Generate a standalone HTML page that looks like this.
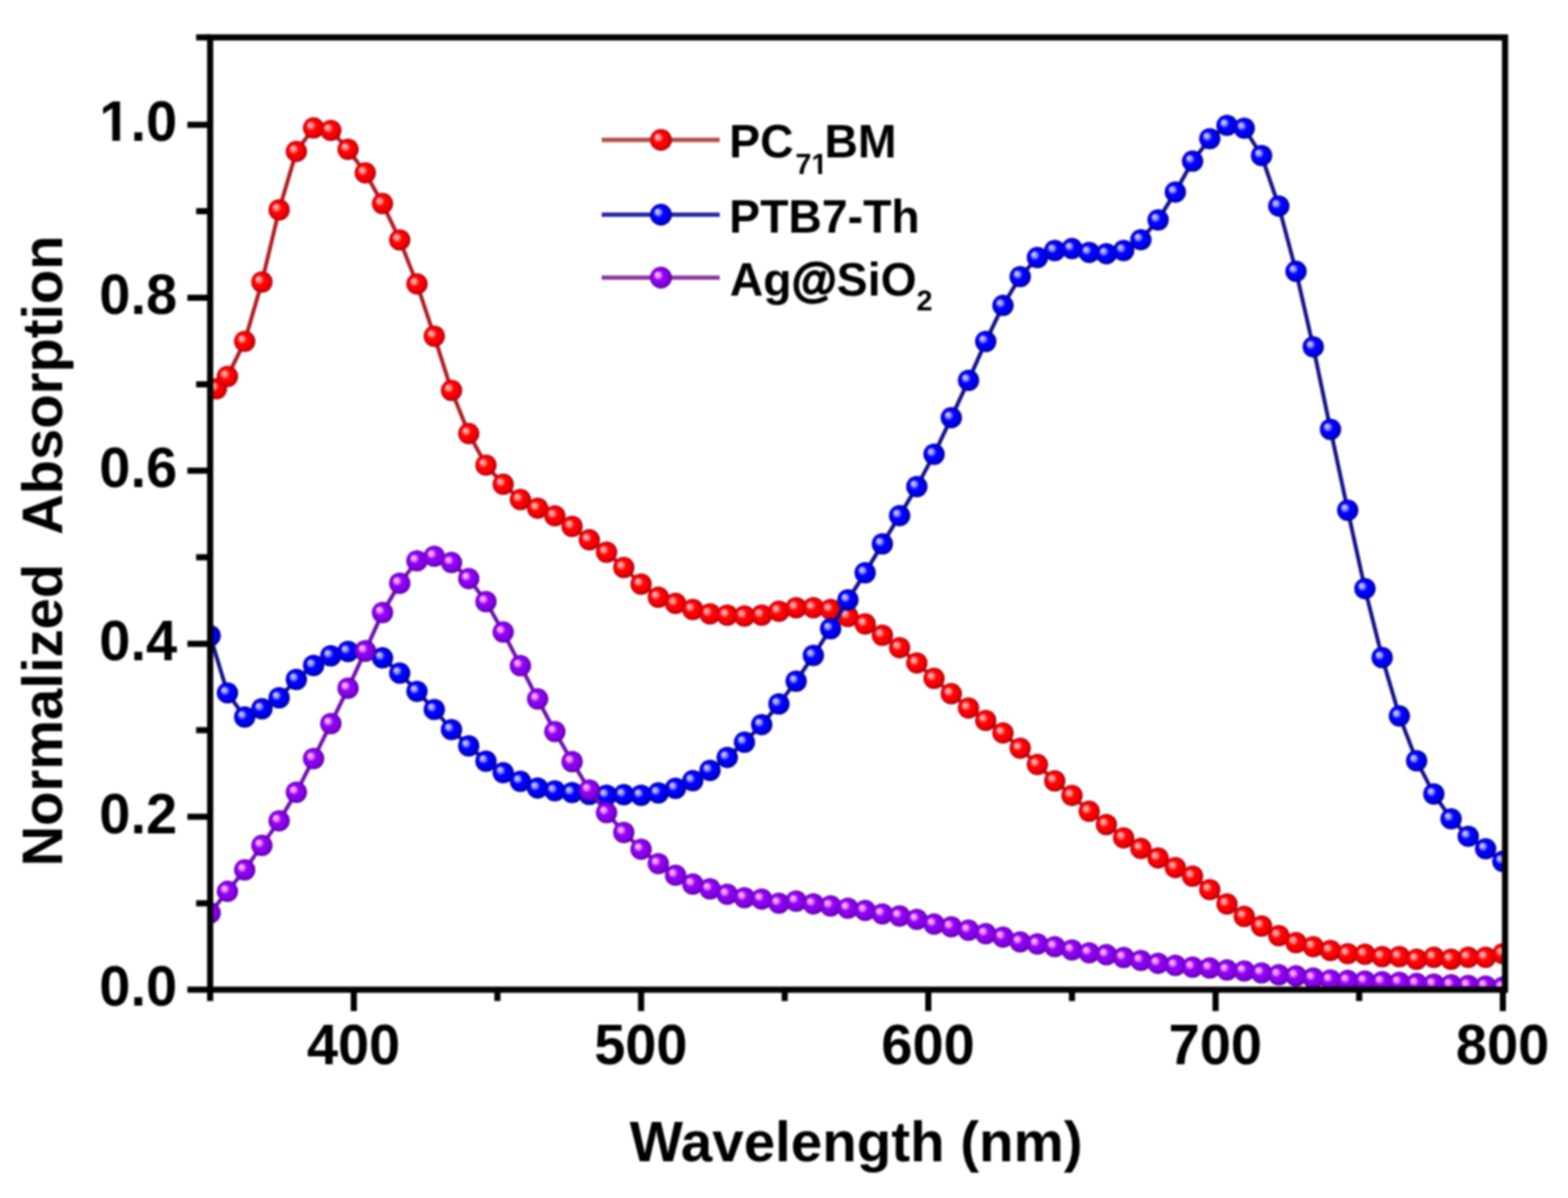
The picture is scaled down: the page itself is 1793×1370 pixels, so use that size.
<!DOCTYPE html>
<html><head><meta charset="utf-8"><title>Normalized Absorption</title>
<style>html,body{margin:0;padding:0;background:#fff;}body{width:1793px;height:1370px;overflow:hidden;}svg{display:block;}#w{filter:blur(0.8px);}</style>
</head><body><div id="w">
<svg width="1793" height="1370" viewBox="0 0 1793 1370">
<defs>
<radialGradient id="gr" cx="0.5" cy="0.5" r="0.5" fx="0.30" fy="0.33"><stop offset="0" stop-color="#ffc4c4"/><stop offset="0.24" stop-color="#ff8c8c"/><stop offset="0.46" stop-color="#ff0000"/><stop offset="0.7" stop-color="#ff0000"/><stop offset="1" stop-color="#a80010"/></radialGradient>
<radialGradient id="gb" cx="0.5" cy="0.5" r="0.5" fx="0.30" fy="0.33"><stop offset="0" stop-color="#d8d8ff"/><stop offset="0.24" stop-color="#9a9aff"/><stop offset="0.46" stop-color="#0000ff"/><stop offset="0.7" stop-color="#0000ff"/><stop offset="1" stop-color="#000090"/></radialGradient>
<radialGradient id="gp" cx="0.5" cy="0.5" r="0.5" fx="0.30" fy="0.33"><stop offset="0" stop-color="#ffc4ff"/><stop offset="0.24" stop-color="#f08cff"/><stop offset="0.46" stop-color="#8c00f0"/><stop offset="0.7" stop-color="#8c00f0"/><stop offset="1" stop-color="#5c00a4"/></radialGradient>
<clipPath id="cp"><rect x="240.3" y="42.8" width="1480.7" height="1089.0"/></clipPath>
</defs>
<rect width="1793" height="1370" fill="#fff"/>
<g clip-path="url(#cp)">
<polyline fill="none" stroke="#b01c24" stroke-width="4.5" stroke-linejoin="round" points="247.5,444.5 260.1,430.5 279.8,390.4 299.5,322.5 319.2,240.0 338.9,173.2 358.6,146.3 378.3,149.1 398.0,170.8 417.7,197.7 437.4,232.8 457.1,274.4 476.8,324.7 496.6,384.5 516.3,446.5 536.0,495.8 555.7,531.9 575.4,553.8 595.1,571.3 614.8,581.2 634.5,589.9 654.2,602.0 673.9,617.3 693.6,631.5 713.3,649.0 733.1,668.0 752.8,683.0 772.5,690.0 792.2,697.0 811.9,702.0 831.6,703.5 851.3,704.5 871.0,703.5 890.7,699.0 910.4,695.0 930.1,695.0 949.8,697.0 969.6,705.0 989.3,713.5 1009.0,726.5 1028.7,740.7 1048.4,758.2 1068.1,775.8 1087.8,793.3 1107.5,809.7 1127.2,823.9 1146.9,838.2 1166.6,855.7 1186.3,874.3 1206.1,893.0 1225.8,909.7 1245.5,927.8 1265.2,943.0 1284.9,958.2 1304.6,970.3 1324.3,981.2 1344.0,992.2 1363.7,1002.0 1383.4,1017.4 1403.1,1033.8 1422.8,1048.0 1442.6,1059.0 1462.3,1070.0 1482.0,1078.0 1501.7,1082.6 1521.4,1087.0 1541.1,1090.6 1560.8,1091.3 1580.5,1094.0 1600.2,1094.0 1619.9,1097.0 1639.6,1094.8 1659.3,1097.0 1679.0,1094.8 1698.8,1094.8 1718.5,1090.6"/>
<circle cx="247.5" cy="444.5" r="12.2" fill="url(#gr)"/><circle cx="260.1" cy="430.5" r="12.2" fill="url(#gr)"/><circle cx="279.8" cy="390.4" r="12.2" fill="url(#gr)"/><circle cx="299.5" cy="322.5" r="12.2" fill="url(#gr)"/><circle cx="319.2" cy="240.0" r="12.2" fill="url(#gr)"/><circle cx="338.9" cy="173.2" r="12.2" fill="url(#gr)"/><circle cx="358.6" cy="146.3" r="12.2" fill="url(#gr)"/><circle cx="378.3" cy="149.1" r="12.2" fill="url(#gr)"/><circle cx="398.0" cy="170.8" r="12.2" fill="url(#gr)"/><circle cx="417.7" cy="197.7" r="12.2" fill="url(#gr)"/><circle cx="437.4" cy="232.8" r="12.2" fill="url(#gr)"/><circle cx="457.1" cy="274.4" r="12.2" fill="url(#gr)"/><circle cx="476.8" cy="324.7" r="12.2" fill="url(#gr)"/><circle cx="496.6" cy="384.5" r="12.2" fill="url(#gr)"/><circle cx="516.3" cy="446.5" r="12.2" fill="url(#gr)"/><circle cx="536.0" cy="495.8" r="12.2" fill="url(#gr)"/><circle cx="555.7" cy="531.9" r="12.2" fill="url(#gr)"/><circle cx="575.4" cy="553.8" r="12.2" fill="url(#gr)"/><circle cx="595.1" cy="571.3" r="12.2" fill="url(#gr)"/><circle cx="614.8" cy="581.2" r="12.2" fill="url(#gr)"/><circle cx="634.5" cy="589.9" r="12.2" fill="url(#gr)"/><circle cx="654.2" cy="602.0" r="12.2" fill="url(#gr)"/><circle cx="673.9" cy="617.3" r="12.2" fill="url(#gr)"/><circle cx="693.6" cy="631.5" r="12.2" fill="url(#gr)"/><circle cx="713.3" cy="649.0" r="12.2" fill="url(#gr)"/><circle cx="733.1" cy="668.0" r="12.2" fill="url(#gr)"/><circle cx="752.8" cy="683.0" r="12.2" fill="url(#gr)"/><circle cx="772.5" cy="690.0" r="12.2" fill="url(#gr)"/><circle cx="792.2" cy="697.0" r="12.2" fill="url(#gr)"/><circle cx="811.9" cy="702.0" r="12.2" fill="url(#gr)"/><circle cx="831.6" cy="703.5" r="12.2" fill="url(#gr)"/><circle cx="851.3" cy="704.5" r="12.2" fill="url(#gr)"/><circle cx="871.0" cy="703.5" r="12.2" fill="url(#gr)"/><circle cx="890.7" cy="699.0" r="12.2" fill="url(#gr)"/><circle cx="910.4" cy="695.0" r="12.2" fill="url(#gr)"/><circle cx="930.1" cy="695.0" r="12.2" fill="url(#gr)"/><circle cx="949.8" cy="697.0" r="12.2" fill="url(#gr)"/><circle cx="969.6" cy="705.0" r="12.2" fill="url(#gr)"/><circle cx="989.3" cy="713.5" r="12.2" fill="url(#gr)"/><circle cx="1009.0" cy="726.5" r="12.2" fill="url(#gr)"/><circle cx="1028.7" cy="740.7" r="12.2" fill="url(#gr)"/><circle cx="1048.4" cy="758.2" r="12.2" fill="url(#gr)"/><circle cx="1068.1" cy="775.8" r="12.2" fill="url(#gr)"/><circle cx="1087.8" cy="793.3" r="12.2" fill="url(#gr)"/><circle cx="1107.5" cy="809.7" r="12.2" fill="url(#gr)"/><circle cx="1127.2" cy="823.9" r="12.2" fill="url(#gr)"/><circle cx="1146.9" cy="838.2" r="12.2" fill="url(#gr)"/><circle cx="1166.6" cy="855.7" r="12.2" fill="url(#gr)"/><circle cx="1186.3" cy="874.3" r="12.2" fill="url(#gr)"/><circle cx="1206.1" cy="893.0" r="12.2" fill="url(#gr)"/><circle cx="1225.8" cy="909.7" r="12.2" fill="url(#gr)"/><circle cx="1245.5" cy="927.8" r="12.2" fill="url(#gr)"/><circle cx="1265.2" cy="943.0" r="12.2" fill="url(#gr)"/><circle cx="1284.9" cy="958.2" r="12.2" fill="url(#gr)"/><circle cx="1304.6" cy="970.3" r="12.2" fill="url(#gr)"/><circle cx="1324.3" cy="981.2" r="12.2" fill="url(#gr)"/><circle cx="1344.0" cy="992.2" r="12.2" fill="url(#gr)"/><circle cx="1363.7" cy="1002.0" r="12.2" fill="url(#gr)"/><circle cx="1383.4" cy="1017.4" r="12.2" fill="url(#gr)"/><circle cx="1403.1" cy="1033.8" r="12.2" fill="url(#gr)"/><circle cx="1422.8" cy="1048.0" r="12.2" fill="url(#gr)"/><circle cx="1442.6" cy="1059.0" r="12.2" fill="url(#gr)"/><circle cx="1462.3" cy="1070.0" r="12.2" fill="url(#gr)"/><circle cx="1482.0" cy="1078.0" r="12.2" fill="url(#gr)"/><circle cx="1501.7" cy="1082.6" r="12.2" fill="url(#gr)"/><circle cx="1521.4" cy="1087.0" r="12.2" fill="url(#gr)"/><circle cx="1541.1" cy="1090.6" r="12.2" fill="url(#gr)"/><circle cx="1560.8" cy="1091.3" r="12.2" fill="url(#gr)"/><circle cx="1580.5" cy="1094.0" r="12.2" fill="url(#gr)"/><circle cx="1600.2" cy="1094.0" r="12.2" fill="url(#gr)"/><circle cx="1619.9" cy="1097.0" r="12.2" fill="url(#gr)"/><circle cx="1639.6" cy="1094.8" r="12.2" fill="url(#gr)"/><circle cx="1659.3" cy="1097.0" r="12.2" fill="url(#gr)"/><circle cx="1679.0" cy="1094.8" r="12.2" fill="url(#gr)"/><circle cx="1698.8" cy="1094.8" r="12.2" fill="url(#gr)"/><circle cx="1718.5" cy="1090.6" r="12.2" fill="url(#gr)"/>

<polyline fill="none" stroke="#14108a" stroke-width="4.5" stroke-linejoin="round" points="240.3,727.0 260.1,792.4 279.8,820.0 299.5,810.5 319.2,798.0 338.9,777.0 358.6,761.0 378.3,750.0 398.0,745.0 417.7,744.5 437.4,752.3 457.1,769.8 476.8,790.6 496.6,811.4 516.3,834.4 536.0,853.0 555.7,870.5 575.4,883.6 595.1,893.5 614.8,901.2 634.5,904.4 654.2,906.4 673.9,908.5 693.6,909.5 713.3,908.8 733.1,909.5 752.8,906.8 772.5,901.5 792.2,892.8 811.9,881.0 831.6,866.2 851.3,848.8 871.0,828.7 890.7,805.0 910.4,779.0 930.1,749.5 949.8,719.0 969.6,686.0 989.3,655.0 1009.0,622.0 1028.7,589.7 1048.4,556.5 1068.1,519.5 1087.8,477.7 1107.5,435.0 1127.2,390.5 1146.9,349.3 1166.6,316.4 1186.3,294.5 1206.1,286.5 1225.8,284.3 1245.5,288.7 1265.2,290.2 1284.9,286.5 1304.6,274.1 1324.3,251.5 1344.0,219.7 1363.7,184.3 1383.4,158.6 1403.1,143.4 1422.8,146.6 1442.6,177.9 1462.3,235.7 1482.0,310.3 1501.7,396.7 1521.4,491.0 1541.1,583.5 1560.8,673.2 1580.5,752.0 1600.2,818.8 1619.9,870.0 1639.6,908.0 1659.3,936.4 1679.0,956.4 1698.8,970.6 1718.5,985.0"/>
<circle cx="240.3" cy="727.0" r="12.2" fill="url(#gb)"/><circle cx="260.1" cy="792.4" r="12.2" fill="url(#gb)"/><circle cx="279.8" cy="820.0" r="12.2" fill="url(#gb)"/><circle cx="299.5" cy="810.5" r="12.2" fill="url(#gb)"/><circle cx="319.2" cy="798.0" r="12.2" fill="url(#gb)"/><circle cx="338.9" cy="777.0" r="12.2" fill="url(#gb)"/><circle cx="358.6" cy="761.0" r="12.2" fill="url(#gb)"/><circle cx="378.3" cy="750.0" r="12.2" fill="url(#gb)"/><circle cx="398.0" cy="745.0" r="12.2" fill="url(#gb)"/><circle cx="417.7" cy="744.5" r="12.2" fill="url(#gb)"/><circle cx="437.4" cy="752.3" r="12.2" fill="url(#gb)"/><circle cx="457.1" cy="769.8" r="12.2" fill="url(#gb)"/><circle cx="476.8" cy="790.6" r="12.2" fill="url(#gb)"/><circle cx="496.6" cy="811.4" r="12.2" fill="url(#gb)"/><circle cx="516.3" cy="834.4" r="12.2" fill="url(#gb)"/><circle cx="536.0" cy="853.0" r="12.2" fill="url(#gb)"/><circle cx="555.7" cy="870.5" r="12.2" fill="url(#gb)"/><circle cx="575.4" cy="883.6" r="12.2" fill="url(#gb)"/><circle cx="595.1" cy="893.5" r="12.2" fill="url(#gb)"/><circle cx="614.8" cy="901.2" r="12.2" fill="url(#gb)"/><circle cx="634.5" cy="904.4" r="12.2" fill="url(#gb)"/><circle cx="654.2" cy="906.4" r="12.2" fill="url(#gb)"/><circle cx="673.9" cy="908.5" r="12.2" fill="url(#gb)"/><circle cx="693.6" cy="909.5" r="12.2" fill="url(#gb)"/><circle cx="713.3" cy="908.8" r="12.2" fill="url(#gb)"/><circle cx="733.1" cy="909.5" r="12.2" fill="url(#gb)"/><circle cx="752.8" cy="906.8" r="12.2" fill="url(#gb)"/><circle cx="772.5" cy="901.5" r="12.2" fill="url(#gb)"/><circle cx="792.2" cy="892.8" r="12.2" fill="url(#gb)"/><circle cx="811.9" cy="881.0" r="12.2" fill="url(#gb)"/><circle cx="831.6" cy="866.2" r="12.2" fill="url(#gb)"/><circle cx="851.3" cy="848.8" r="12.2" fill="url(#gb)"/><circle cx="871.0" cy="828.7" r="12.2" fill="url(#gb)"/><circle cx="890.7" cy="805.0" r="12.2" fill="url(#gb)"/><circle cx="910.4" cy="779.0" r="12.2" fill="url(#gb)"/><circle cx="930.1" cy="749.5" r="12.2" fill="url(#gb)"/><circle cx="949.8" cy="719.0" r="12.2" fill="url(#gb)"/><circle cx="969.6" cy="686.0" r="12.2" fill="url(#gb)"/><circle cx="989.3" cy="655.0" r="12.2" fill="url(#gb)"/><circle cx="1009.0" cy="622.0" r="12.2" fill="url(#gb)"/><circle cx="1028.7" cy="589.7" r="12.2" fill="url(#gb)"/><circle cx="1048.4" cy="556.5" r="12.2" fill="url(#gb)"/><circle cx="1068.1" cy="519.5" r="12.2" fill="url(#gb)"/><circle cx="1087.8" cy="477.7" r="12.2" fill="url(#gb)"/><circle cx="1107.5" cy="435.0" r="12.2" fill="url(#gb)"/><circle cx="1127.2" cy="390.5" r="12.2" fill="url(#gb)"/><circle cx="1146.9" cy="349.3" r="12.2" fill="url(#gb)"/><circle cx="1166.6" cy="316.4" r="12.2" fill="url(#gb)"/><circle cx="1186.3" cy="294.5" r="12.2" fill="url(#gb)"/><circle cx="1206.1" cy="286.5" r="12.2" fill="url(#gb)"/><circle cx="1225.8" cy="284.3" r="12.2" fill="url(#gb)"/><circle cx="1245.5" cy="288.7" r="12.2" fill="url(#gb)"/><circle cx="1265.2" cy="290.2" r="12.2" fill="url(#gb)"/><circle cx="1284.9" cy="286.5" r="12.2" fill="url(#gb)"/><circle cx="1304.6" cy="274.1" r="12.2" fill="url(#gb)"/><circle cx="1324.3" cy="251.5" r="12.2" fill="url(#gb)"/><circle cx="1344.0" cy="219.7" r="12.2" fill="url(#gb)"/><circle cx="1363.7" cy="184.3" r="12.2" fill="url(#gb)"/><circle cx="1383.4" cy="158.6" r="12.2" fill="url(#gb)"/><circle cx="1403.1" cy="143.4" r="12.2" fill="url(#gb)"/><circle cx="1422.8" cy="146.6" r="12.2" fill="url(#gb)"/><circle cx="1442.6" cy="177.9" r="12.2" fill="url(#gb)"/><circle cx="1462.3" cy="235.7" r="12.2" fill="url(#gb)"/><circle cx="1482.0" cy="310.3" r="12.2" fill="url(#gb)"/><circle cx="1501.7" cy="396.7" r="12.2" fill="url(#gb)"/><circle cx="1521.4" cy="491.0" r="12.2" fill="url(#gb)"/><circle cx="1541.1" cy="583.5" r="12.2" fill="url(#gb)"/><circle cx="1560.8" cy="673.2" r="12.2" fill="url(#gb)"/><circle cx="1580.5" cy="752.0" r="12.2" fill="url(#gb)"/><circle cx="1600.2" cy="818.8" r="12.2" fill="url(#gb)"/><circle cx="1619.9" cy="870.0" r="12.2" fill="url(#gb)"/><circle cx="1639.6" cy="908.0" r="12.2" fill="url(#gb)"/><circle cx="1659.3" cy="936.4" r="12.2" fill="url(#gb)"/><circle cx="1679.0" cy="956.4" r="12.2" fill="url(#gb)"/><circle cx="1698.8" cy="970.6" r="12.2" fill="url(#gb)"/><circle cx="1718.5" cy="985.0" r="12.2" fill="url(#gb)"/>

<polyline fill="none" stroke="#6e10b0" stroke-width="4.5" stroke-linejoin="round" points="240.3,1044.0 260.1,1019.3 279.8,994.8 299.5,966.8 319.2,938.7 338.9,906.0 358.6,867.5 378.3,827.5 398.0,787.0 417.7,744.5 437.4,700.5 457.1,667.0 476.8,641.4 496.6,636.1 516.3,643.3 536.0,661.7 555.7,688.0 575.4,722.8 595.1,761.3 614.8,799.3 634.5,836.6 654.2,871.0 673.9,903.4 693.6,929.3 713.3,952.0 733.1,971.2 752.8,987.6 772.5,1000.9 792.2,1011.0 811.9,1016.5 831.6,1022.7 851.3,1026.6 871.0,1028.2 890.7,1032.9 910.4,1030.5 930.1,1033.7 949.8,1036.0 969.6,1038.6 989.3,1041.2 1009.0,1045.1 1028.7,1047.5 1048.4,1051.4 1068.1,1056.8 1087.8,1059.9 1107.5,1063.8 1127.2,1067.8 1146.9,1071.7 1166.6,1077.1 1186.3,1079.5 1206.1,1082.6 1225.8,1086.4 1245.5,1089.6 1265.2,1091.8 1284.9,1095.0 1304.6,1098.4 1324.3,1101.7 1344.0,1104.0 1363.7,1106.0 1383.4,1107.0 1403.1,1109.3 1422.8,1110.4 1442.6,1112.6 1462.3,1114.8 1482.0,1116.0 1501.7,1118.5 1521.4,1120.6 1541.1,1121.3 1560.8,1122.0 1580.5,1122.7 1600.2,1123.4 1619.9,1124.8 1639.6,1125.5 1659.3,1126.2 1679.0,1126.9 1698.8,1127.6 1718.5,1129.0"/>
<circle cx="240.3" cy="1044.0" r="12.2" fill="url(#gp)"/><circle cx="260.1" cy="1019.3" r="12.2" fill="url(#gp)"/><circle cx="279.8" cy="994.8" r="12.2" fill="url(#gp)"/><circle cx="299.5" cy="966.8" r="12.2" fill="url(#gp)"/><circle cx="319.2" cy="938.7" r="12.2" fill="url(#gp)"/><circle cx="338.9" cy="906.0" r="12.2" fill="url(#gp)"/><circle cx="358.6" cy="867.5" r="12.2" fill="url(#gp)"/><circle cx="378.3" cy="827.5" r="12.2" fill="url(#gp)"/><circle cx="398.0" cy="787.0" r="12.2" fill="url(#gp)"/><circle cx="417.7" cy="744.5" r="12.2" fill="url(#gp)"/><circle cx="437.4" cy="700.5" r="12.2" fill="url(#gp)"/><circle cx="457.1" cy="667.0" r="12.2" fill="url(#gp)"/><circle cx="476.8" cy="641.4" r="12.2" fill="url(#gp)"/><circle cx="496.6" cy="636.1" r="12.2" fill="url(#gp)"/><circle cx="516.3" cy="643.3" r="12.2" fill="url(#gp)"/><circle cx="536.0" cy="661.7" r="12.2" fill="url(#gp)"/><circle cx="555.7" cy="688.0" r="12.2" fill="url(#gp)"/><circle cx="575.4" cy="722.8" r="12.2" fill="url(#gp)"/><circle cx="595.1" cy="761.3" r="12.2" fill="url(#gp)"/><circle cx="614.8" cy="799.3" r="12.2" fill="url(#gp)"/><circle cx="634.5" cy="836.6" r="12.2" fill="url(#gp)"/><circle cx="654.2" cy="871.0" r="12.2" fill="url(#gp)"/><circle cx="673.9" cy="903.4" r="12.2" fill="url(#gp)"/><circle cx="693.6" cy="929.3" r="12.2" fill="url(#gp)"/><circle cx="713.3" cy="952.0" r="12.2" fill="url(#gp)"/><circle cx="733.1" cy="971.2" r="12.2" fill="url(#gp)"/><circle cx="752.8" cy="987.6" r="12.2" fill="url(#gp)"/><circle cx="772.5" cy="1000.9" r="12.2" fill="url(#gp)"/><circle cx="792.2" cy="1011.0" r="12.2" fill="url(#gp)"/><circle cx="811.9" cy="1016.5" r="12.2" fill="url(#gp)"/><circle cx="831.6" cy="1022.7" r="12.2" fill="url(#gp)"/><circle cx="851.3" cy="1026.6" r="12.2" fill="url(#gp)"/><circle cx="871.0" cy="1028.2" r="12.2" fill="url(#gp)"/><circle cx="890.7" cy="1032.9" r="12.2" fill="url(#gp)"/><circle cx="910.4" cy="1030.5" r="12.2" fill="url(#gp)"/><circle cx="930.1" cy="1033.7" r="12.2" fill="url(#gp)"/><circle cx="949.8" cy="1036.0" r="12.2" fill="url(#gp)"/><circle cx="969.6" cy="1038.6" r="12.2" fill="url(#gp)"/><circle cx="989.3" cy="1041.2" r="12.2" fill="url(#gp)"/><circle cx="1009.0" cy="1045.1" r="12.2" fill="url(#gp)"/><circle cx="1028.7" cy="1047.5" r="12.2" fill="url(#gp)"/><circle cx="1048.4" cy="1051.4" r="12.2" fill="url(#gp)"/><circle cx="1068.1" cy="1056.8" r="12.2" fill="url(#gp)"/><circle cx="1087.8" cy="1059.9" r="12.2" fill="url(#gp)"/><circle cx="1107.5" cy="1063.8" r="12.2" fill="url(#gp)"/><circle cx="1127.2" cy="1067.8" r="12.2" fill="url(#gp)"/><circle cx="1146.9" cy="1071.7" r="12.2" fill="url(#gp)"/><circle cx="1166.6" cy="1077.1" r="12.2" fill="url(#gp)"/><circle cx="1186.3" cy="1079.5" r="12.2" fill="url(#gp)"/><circle cx="1206.1" cy="1082.6" r="12.2" fill="url(#gp)"/><circle cx="1225.8" cy="1086.4" r="12.2" fill="url(#gp)"/><circle cx="1245.5" cy="1089.6" r="12.2" fill="url(#gp)"/><circle cx="1265.2" cy="1091.8" r="12.2" fill="url(#gp)"/><circle cx="1284.9" cy="1095.0" r="12.2" fill="url(#gp)"/><circle cx="1304.6" cy="1098.4" r="12.2" fill="url(#gp)"/><circle cx="1324.3" cy="1101.7" r="12.2" fill="url(#gp)"/><circle cx="1344.0" cy="1104.0" r="12.2" fill="url(#gp)"/><circle cx="1363.7" cy="1106.0" r="12.2" fill="url(#gp)"/><circle cx="1383.4" cy="1107.0" r="12.2" fill="url(#gp)"/><circle cx="1403.1" cy="1109.3" r="12.2" fill="url(#gp)"/><circle cx="1422.8" cy="1110.4" r="12.2" fill="url(#gp)"/><circle cx="1442.6" cy="1112.6" r="12.2" fill="url(#gp)"/><circle cx="1462.3" cy="1114.8" r="12.2" fill="url(#gp)"/><circle cx="1482.0" cy="1116.0" r="12.2" fill="url(#gp)"/><circle cx="1501.7" cy="1118.5" r="12.2" fill="url(#gp)"/><circle cx="1521.4" cy="1120.6" r="12.2" fill="url(#gp)"/><circle cx="1541.1" cy="1121.3" r="12.2" fill="url(#gp)"/><circle cx="1560.8" cy="1122.0" r="12.2" fill="url(#gp)"/><circle cx="1580.5" cy="1122.7" r="12.2" fill="url(#gp)"/><circle cx="1600.2" cy="1123.4" r="12.2" fill="url(#gp)"/><circle cx="1619.9" cy="1124.8" r="12.2" fill="url(#gp)"/><circle cx="1639.6" cy="1125.5" r="12.2" fill="url(#gp)"/><circle cx="1659.3" cy="1126.2" r="12.2" fill="url(#gp)"/><circle cx="1679.0" cy="1126.9" r="12.2" fill="url(#gp)"/><circle cx="1698.8" cy="1127.6" r="12.2" fill="url(#gp)"/><circle cx="1718.5" cy="1129.0" r="12.2" fill="url(#gp)"/>

</g>
<rect x="240.3" y="42.8" width="1480.7" height="1089.0" fill="none" stroke="#000" stroke-width="7.0"/>
<path d="M214.3 1131.8H240.3M224.3 1032.9H240.3M214.3 934.0H240.3M224.3 835.1H240.3M214.3 736.2H240.3M224.3 637.2H240.3M214.3 538.3H240.3M224.3 439.4H240.3M214.3 340.5H240.3M224.3 241.6H240.3M214.3 142.7H240.3M224.3 42.8H240.3M240.3 1131.8V1144.8M404.6 1131.8V1156.3M568.8 1131.8V1144.8M733.1 1131.8V1156.3M897.3 1131.8V1144.8M1061.5 1131.8V1156.3M1225.8 1131.8V1144.8M1390.0 1131.8V1156.3M1554.2 1131.8V1144.8M1718.5 1131.8V1156.3" stroke="#000" stroke-width="7.0" fill="none"/>
<text x="202.5" y="1150.3" text-anchor="end" style="font-family:'Liberation Sans',Arial,sans-serif;font-weight:bold;font-size:64px">0.0</text>
<text x="202.5" y="952.5" text-anchor="end" style="font-family:'Liberation Sans',Arial,sans-serif;font-weight:bold;font-size:64px">0.2</text>
<text x="202.5" y="754.7" text-anchor="end" style="font-family:'Liberation Sans',Arial,sans-serif;font-weight:bold;font-size:64px">0.4</text>
<text x="202.5" y="556.8" text-anchor="end" style="font-family:'Liberation Sans',Arial,sans-serif;font-weight:bold;font-size:64px">0.6</text>
<text x="202.5" y="359.0" text-anchor="end" style="font-family:'Liberation Sans',Arial,sans-serif;font-weight:bold;font-size:64px">0.8</text>
<clipPath id="c1"><rect x="103.53" y="71.20" width="200" height="82.27"/><rect x="128.47" y="152.67" width="8.78" height="12"/><rect x="149.12" y="152.67" width="200" height="12"/></clipPath>
<text x="202.5" y="161.2" text-anchor="end" clip-path="url(#c1)" style="font-family:'Liberation Sans',Arial,sans-serif;font-weight:bold;font-size:64px">1.0</text>
<text x="404.3" y="1217" text-anchor="middle" style="font-family:'Liberation Sans',Arial,sans-serif;font-weight:bold;font-size:64px">400</text>
<text x="732.8" y="1217" text-anchor="middle" style="font-family:'Liberation Sans',Arial,sans-serif;font-weight:bold;font-size:64px">500</text>
<text x="1061.2" y="1217" text-anchor="middle" style="font-family:'Liberation Sans',Arial,sans-serif;font-weight:bold;font-size:64px">600</text>
<text x="1389.7" y="1217" text-anchor="middle" style="font-family:'Liberation Sans',Arial,sans-serif;font-weight:bold;font-size:64px">700</text>
<text x="1718.2" y="1217" text-anchor="middle" style="font-family:'Liberation Sans',Arial,sans-serif;font-weight:bold;font-size:64px">800</text>
<text x="979" y="1327.5" text-anchor="middle" style="font-family:'Liberation Sans',Arial,sans-serif;font-weight:bold;font-size:64.6px">Wavelength (nm)</text>
<text transform="translate(70.5 630) rotate(-90)" text-anchor="middle" style="font-family:'Liberation Sans',Arial,sans-serif;font-weight:bold;font-size:64.2px" xml:space="preserve">Normalized  Absorption</text>
<line x1="688" y1="160.0" x2="823" y2="160.0" stroke="#b44a4a" stroke-width="4.8"/><circle cx="755.8" cy="160.0" r="12.5" fill="url(#gr)"/>
<line x1="688" y1="245.5" x2="823" y2="245.5" stroke="#2828a8" stroke-width="4.8"/><circle cx="755.8" cy="245.5" r="12.5" fill="url(#gb)"/>
<line x1="688" y1="317.5" x2="823" y2="317.5" stroke="#8a3aa0" stroke-width="4.8"/><circle cx="755.8" cy="317.5" r="12.5" fill="url(#gp)"/>
<clipPath id="c2"><rect x="780" y="100" width="400" height="94.13"/><rect x="780" y="193.13" width="146.85" height="40"/><rect x="935.56" y="193.13" width="4.53" height="40"/><rect x="947.19" y="193.13" width="300" height="40"/></clipPath>
<text x="833.8" y="180.3" clip-path="url(#c2)" style="font-family:'Liberation Sans',Arial,sans-serif;font-weight:bold;font-size:53px">PC<tspan x="909.5" y="198.5" style="font-size:33px">71</tspan><tspan x="942.7" y="180.3">BM</tspan></text>
<text x="833.8" y="266.3" style="font-family:'Liberation Sans',Arial,sans-serif;font-weight:bold;font-size:53px">PTB7-Th</text>
<text x="834.5" y="337.8" style="font-family:'Liberation Sans',Arial,sans-serif;font-weight:bold;font-size:53px">Ag<tspan style="stroke:#000;stroke-width:1.8px">@</tspan>SiO<tspan x="1048" y="355" style="font-size:33px">2</tspan></text>
</svg>
</div></body></html>
